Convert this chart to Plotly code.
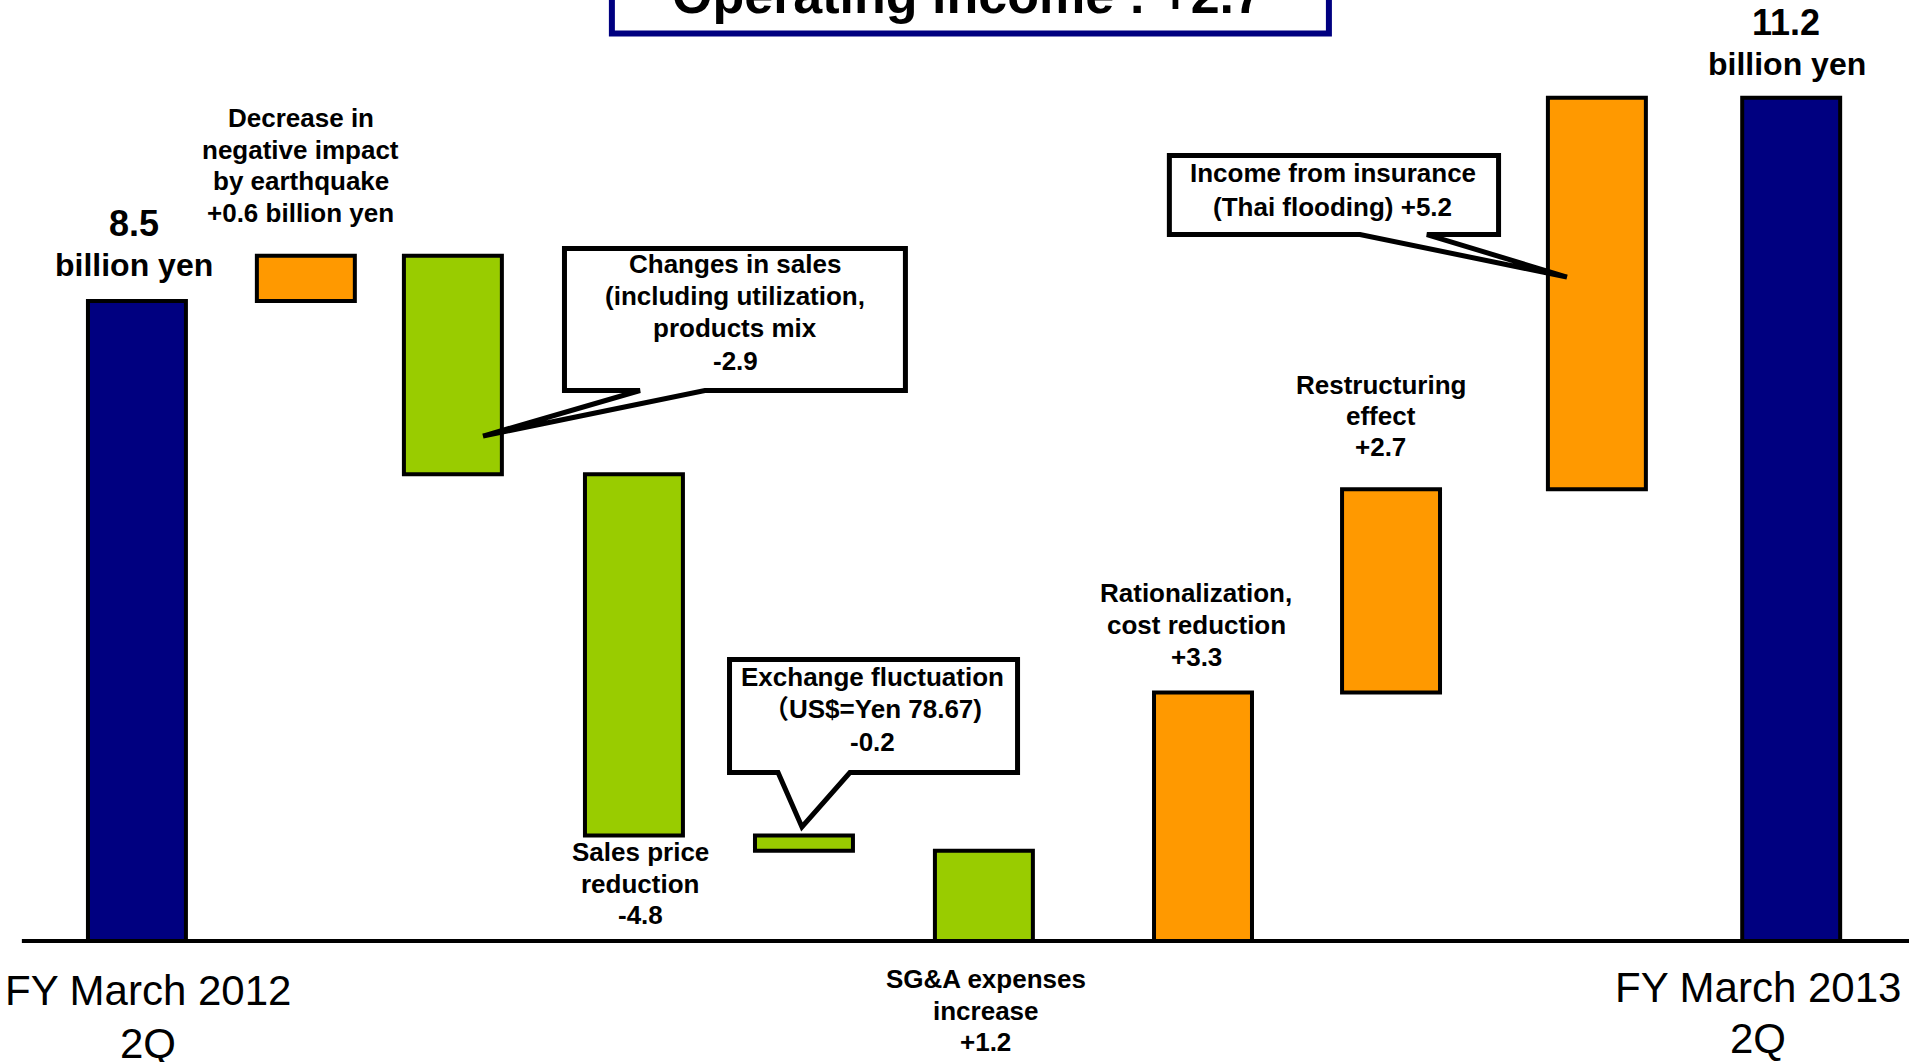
import plotly.graph_objects as go

# ---------------- data ----------------
steps = ["FY March 2012 2Q", "Earthquake impact", "Changes in sales", "Sales price",
         "Exchange fluctuation", "SG&A expenses", "Rationalization", "Restructuring",
         "Insurance income", "FY March 2013 2Q"]
values = [8.5, 0.6, -2.9, -4.8, -0.2, -1.2, 3.3, 2.7, 5.2, 11.2]
measures = ["absolute", "relative", "relative", "relative", "relative", "relative",
            "relative", "relative", "relative", "total"]

start_value_text = "8.5"
end_value_text = "11.2"
unit_text = "billion yen"
start_label_lines = ["FY March 2012", "2Q"]
end_label_lines = ["FY March 2013", "2Q"]
title_text = "Operating income : +2.7"

earthquake_lines = ["Decrease in", "negative impact", "by earthquake", "+0.6 billion yen"]
sales_change_lines = ["Changes in sales", "(including utilization,", "products mix", "-2.9"]
sales_price_lines = ["Sales price", "reduction", "-4.8"]
exchange_lines = ["Exchange fluctuation", "\uff08US$=Yen 78.67)", "-0.2"]
sga_lines = ["SG&A expenses", "increase", "+1.2"]
rational_lines = ["Rationalization,", "cost reduction", "+3.3"]
restruct_lines = ["Restructuring", "effect", "+2.7"]
insurance_lines = ["Income from insurance", "(Thai flooding) +5.2"]

# ---------------- layout / style ----------------
slot_pos = [0, 0.919, 1.719, 2.704, 3.629, 4.608, 5.8, 6.823, 7.943, 9.0]
BAR_W = 0.533
ORANGE = "#FF9900"
GREEN = "#99CC00"
NAVY = "#000080"
FONT = "Liberation Sans, Arial, Noto Sans CJK JP, sans-serif"

fig = go.Figure()
fig.add_trace(go.Waterfall(
    x=slot_pos, y=values, measure=measures, width=BAR_W,
    textinfo="none", hoverinfo="skip",
    increasing=dict(marker=dict(color=ORANGE, line=dict(color="black", width=4))),
    decreasing=dict(marker=dict(color=GREEN, line=dict(color="black", width=4))),
    totals=dict(marker=dict(color=NAVY, line=dict(color="black", width=4))),
    connector=dict(visible=False),
    showlegend=False,
))

annotations = []


def add_text(text, x, y, size, bold=True, xref="x", yref="y"):
    t = f"<b>{text}</b>" if bold else text
    annotations.append(dict(x=x, y=y, xref=xref, yref=yref, text=t, showarrow=False,
                            xanchor="center", yanchor="middle",
                            font=dict(family=FONT, size=size, color="black")))


def add_block(lines, x, y_first, step, size, bold=True):
    for i, ln in enumerate(lines):
        add_text(ln, x, y_first - i * step, size, bold)


def path_of(points):
    return "M " + " L ".join(f"{px},{py}" for px, py in points) + " Z"


shapes = []

# title box (cut off at the top)
shapes.append(dict(type="rect", xref="x", yref="y", x0=2.584, x1=6.485, y0=12.052, y1=13.8,
                   line=dict(color=NAVY, width=6), fillcolor="white", layer="above"))

# callouts
callouts = [
    [(2.326, 9.197), (4.181, 9.197), (4.181, 7.311), (3.090, 7.311), (1.883, 6.706),
     (2.737, 7.311), (2.326, 7.311)],
    [(3.224, 3.738), (4.791, 3.738), (4.791, 2.238), (3.879, 2.238), (3.618, 1.514),
     (3.488, 2.238), (3.224, 2.238)],
    [(5.617, 10.432), (7.408, 10.432), (7.408, 9.382), (7.018, 9.382), (7.780, 8.818),
     (6.654, 9.382), (5.617, 9.382)],
]
for pts in callouts:
    shapes.append(dict(type="path", xref="x", yref="y", path=path_of(pts),
                       line=dict(color="black", width=5), fillcolor="white", layer="above"))

# baseline
shapes.append(dict(type="line", xref="x", yref="y", x0=-0.626, x1=9.7, y0=0, y1=0,
                   line=dict(color="black", width=4), layer="above"))

# texts
add_text(title_text, 0.507, 1.0045, 52, xref="paper", yref="paper")
add_text(start_value_text, -0.016, 9.535, 36)
add_text(unit_text, -0.016, 8.977, 32)
add_text(end_value_text, 8.972, 12.204, 36)
add_text(unit_text, 8.977, 11.647, 32)

add_block(earthquake_lines, 0.892, 10.930, 0.421, 26)
add_block(sales_change_lines, 3.254, 8.991, 0.428, 26)
add_block(sales_price_lines, 2.737, 1.182, 0.419, 26)
add_block(exchange_lines, 4.004, 3.506, 0.431, 26)
add_block(sga_lines, 4.619, -0.505, 0.418, 26)
add_block(rational_lines, 5.762, 4.622, 0.425, 26)
add_block(restruct_lines, 6.768, 7.384, 0.412, 26)
add_block(insurance_lines, 6.507, 10.199, 0.451, 26)

add_block(start_label_lines, 0.060, -0.664, 0.70, 42, bold=False)
add_block(end_label_lines, 8.819, -0.611, 0.69, 42, bold=False)

fig.update_layout(
    width=1909, height=1062,
    margin=dict(l=0, r=0, t=0, b=0, pad=0),
    paper_bgcolor="white", plot_bgcolor="white",
    xaxis=dict(range=[-0.745, 9.641], visible=False, fixedrange=True),
    yaxis=dict(range=[-1.607, 12.497], visible=False, fixedrange=True),
    shapes=shapes, annotations=annotations,
    showlegend=False,
)

fig.write_html("out.html")
